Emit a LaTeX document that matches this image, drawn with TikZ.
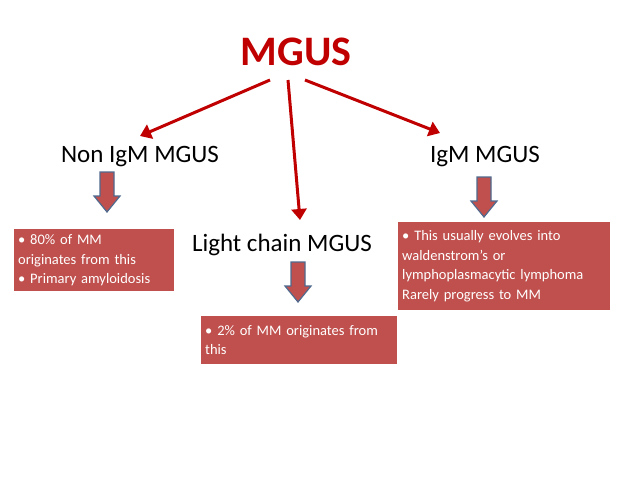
\documentclass[tikz,border=0pt]{standalone}
\usepackage{fontspec}
\setmainfont{Carlito}
\usetikzlibrary{arrows.meta}
\definecolor{mgusred}{HTML}{C00000}
\definecolor{boxred}{HTML}{C0504D}
\definecolor{edgeblue}{HTML}{4F6A8F}
\newcommand{\blockdown}[1]{%
    \draw[down] ($(#1)+(-7,-20)$) -- ++(14,0) -- ++(0,24) -- ++(6,0)
        -- ($(#1)+(0,20)$) -- ($(#1)+(-13,4)$) -- ++(6,0) -- cycle;}
\usetikzlibrary{calc}
\begin{document}
\begin{tikzpicture}[x=1pt,y=-1pt,
        link/.style={mgusred,line width=3pt,-{Triangle[length=11pt,width=15pt]}},
        kind/.style={font=\fontsize{25}{28}\selectfont,text=black},
        down/.style={draw=edgeblue,fill=boxred,line width=1.2pt,line join=miter},
        note/.style={fill=boxred,text=white,align=left,anchor=north west,
            font=\fontsize{14.5}{19.5}\selectfont,inner sep=4pt}]
    \useasboundingbox (0,0) rectangle (638,479);

    \node[font=\fontsize{42}{46}\selectfont\bfseries,text=mgusred] (M) at (296,52) {MGUS};

    \node[kind] (N) at (140,157) {Non IgM MGUS};
    \node[kind] (I) at (485,157) {IgM MGUS};
    \node[kind] (L) at (282,245) {Light chain MGUS};

    \coordinate (m1) at (270,80);
    \coordinate (m2) at (288,80);
    \coordinate (m3) at (305,80);
    \coordinate (n1) at (140,136);
    \coordinate (l1) at (300,220);
    \coordinate (i1) at (440,133);
    \draw[link] (m1) -- (n1);
    \draw[link] (m2) -- (l1);
    \draw[link] (m3) -- (i1);

    \coordinate (dn) at (107,192);
    \coordinate (di) at (484,197);
    \coordinate (dl) at (298,282);
    \blockdown{dn}
    \blockdown{di}
    \blockdown{dl}

    \node[note,text width=152pt,minimum height=62pt] (bn) at (14,229)
        {• 80\% of MM\\originates from this\\• Primary amyloidosis};
    \node[note,text width=204pt,minimum height=88pt] (bi) at (398,222)
        {• This usually evolves into\\waldenstrom’s or\\lymphoplasmacytic lymphoma\\Rarely progress to MM};
    \node[note,text width=188pt,minimum height=48pt] (bl) at (201,316)
        {• 2\% of MM originates from\\this};
\end{tikzpicture}
\end{document}
